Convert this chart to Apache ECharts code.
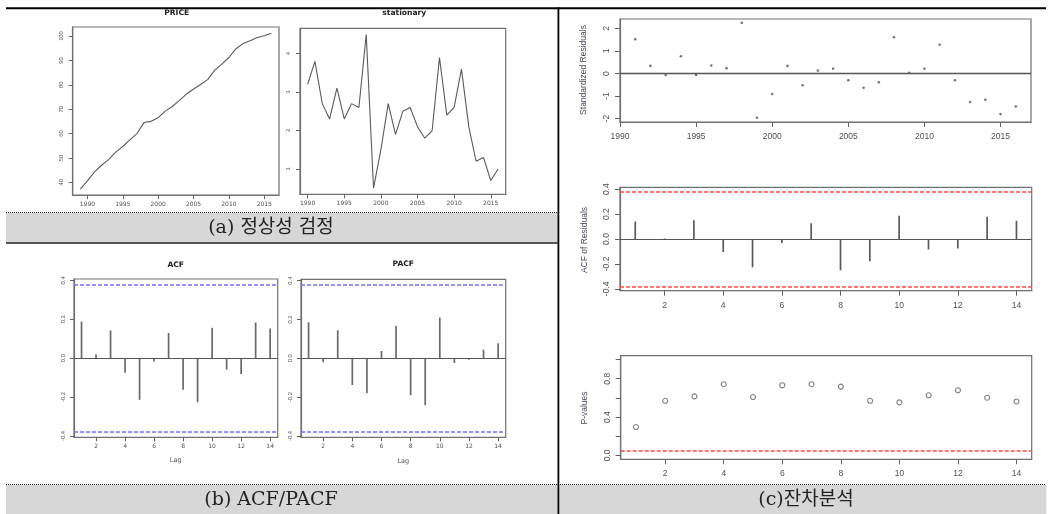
<!DOCTYPE html>
<html><head><meta charset="utf-8">
<script src="https://cdn.jsdelivr.net/npm/echarts@6/dist/echarts.min.js"></script>
<style>html,body{margin:0;padding:0;background:#fff}#c{width:1052px;height:514px}</style>
</head><body><div id="c"></div>
<script>
// ---------- data ----------
const priceYears = [1989,1990,1991,1992,1993,1994,1995,1996,1997,1998,1999,2000,2001,2002,2003,2004,2005,2006,2007,2008,2009,2010,2011,2012,2013,2014,2015,2016];
const priceValues = [37.2,40.6,44.3,47.0,49.3,52.4,54.7,57.4,60.0,64.5,65.0,66.5,69.2,71.1,73.6,76.2,78.3,80.1,82.1,86.0,88.5,91.2,94.8,96.9,98.1,99.4,100.1,101.1];
const statYears = [1990,1991,1992,1993,1994,1995,1996,1997,1998,1999,2000,2001,2002,2003,2004,2005,2006,2007,2008,2009,2010,2011,2012,2013,2014,2015,2016];
const statValues = [3.2,3.8,2.7,2.3,3.1,2.3,2.7,2.6,4.5,0.5,1.5,2.7,1.9,2.5,2.6,2.1,1.8,2.0,3.9,2.4,2.6,3.6,2.1,1.2,1.3,0.7,1.0];
const lags = [1,2,3,4,5,6,7,8,9,10,11,12,13,14];
const acfValues = [0.188,0.019,0.142,-0.075,-0.214,-0.017,0.129,-0.163,-0.227,0.156,-0.059,-0.081,0.183,0.153];
const pacfValues = [0.186,-0.020,0.144,-0.137,-0.180,0.037,0.168,-0.190,-0.242,0.210,-0.024,-0.007,0.044,0.078];
const residYears = [1991,1992,1993,1994,1995,1996,1997,1998,1999,2000,2001,2002,2003,2004,2005,2006,2007,2008,2009,2010,2011,2012,2013,2014,2015,2016];
const residValues = [1.52,0.34,-0.06,0.77,-0.06,0.36,0.24,2.25,-1.96,-0.91,0.34,-0.52,0.13,0.21,-0.30,-0.63,-0.39,1.61,0.03,0.21,1.28,-0.30,-1.26,-1.16,-1.80,-1.46];
const residAcfValues = [0.141,0.005,0.151,-0.105,-0.227,-0.032,0.127,-0.251,-0.178,0.186,-0.084,-0.076,0.178,0.146];
const pValues = [0.296,0.570,0.616,0.743,0.609,0.732,0.743,0.718,0.570,0.553,0.627,0.680,0.602,0.563];
const yearTicks = [1990,1995,2000,2005,2010,2015];
const lagTicks = [2,4,6,8,10,12,14];
const priceTicks = [40,50,60,70,80,90,100];
const statTicks = [1,2,3,4];
const acfTicks = [-0.4,-0.2,0,0.2,0.4];
const residTicks = [-2,-1,0,1,2];
const pvTicks = [0,0.2,0.4,0.6,0.8,1.0];
const pvLabelTicks = [0,0.4,0.8];
const acfLimit = 0.377, residAcfLimit = 0.384, pLimit = 0.05;
const panelTitles = ['PRICE','stationary','ACF','PACF'];
const yNames = ['Standardized Residuals','ACF of Residuals','P-values'];
const captions = ['(a) 정상성 검정','(b) ACF/PACF','(c)잔차분석'];

// ---------- helpers ----------
const FH = 'DejaVu Sans', FV = 'Liberation Sans';
const BOX = '#707070', TXT = '#505050', LINE = '#5a5a5a';
const grids = [
  {left:72.7, top:27, width:206.3, height:168},
  {left:300, top:28.3, width:205.7, height:166},
  {left:74, top:279, width:203.7, height:158.3},
  {left:301, top:279.3, width:204.7, height:158},
  {left:620, top:19, width:411, height:103},
  {left:620, top:187.3, width:411.7, height:103.4},
  {left:620.7, top:355.7, width:411, height:103.6}
].map(g => Object.assign({show:true, borderColor:BOX, borderWidth:1.2, backgroundColor:'transparent', containLabel:false, outerBoundsMode:'none'}, g));

function xAx(gi, min, max, ticks, fs, font, margin, tlen) {
  return {type:'value', gridIndex:gi, min, max, axisLine:{show:true, onZero:false, lineStyle:{color:BOX, width:1.2}}, splitLine:{show:false},
    axisTick:{show:true, customValues:ticks, length:tlen, lineStyle:{color:'#606060', width:1}},
    axisLabel:{customValues:ticks, fontSize:fs, fontFamily:font, color:TXT, margin, hideOverlap:false,
      formatter: v => String(v)}};
}
function yAx(gi, min, max, ticks, labelTicks, fs, margin, tlen, fmt) {
  return {type:'value', gridIndex:gi, min, max, axisLine:{show:true, onZero:false, lineStyle:{color:BOX, width:1.2}}, splitLine:{show:false},
    axisTick:{show:true, customValues:ticks, length:tlen, lineStyle:{color:'#606060', width:1}},
    axisLabel:{customValues:labelTicks, fontSize:fs, fontFamily:FV, color:TXT, margin, rotate:90, hideOverlap:false,
      formatter: fmt || (v => String(v))}};
}
const f1 = v => Number(v).toFixed(1);

// spikes drawn through the axes' scales; limit lines as markLines
function spikes(gi, vals, color, limits, limColor) {
  return {type:'custom', xAxisIndex:gi, yAxisIndex:gi, data: lags.map((l,i)=>[l, vals[i]]),
    encode:{x:0, y:1}, clip:true,
    renderItem:(params, api) => {
      const p0 = api.coord([api.value(0), 0]);
      const p1 = api.coord([api.value(0), api.value(1)]);
      return {type:'line', shape:{x1:p0[0], y1:p0[1], x2:p1[0], y2:p1[1]}, style:{stroke:color, lineWidth:1.7}};
    },
    markLine: {silent:true, symbol:['none','none'], label:{show:false}, animation:false,
      data: [{yAxis:0, lineStyle:{color:'#555', width:1, type:'solid'}}].concat(
        limits.map(v => ({yAxis:v, lineStyle:{color:limColor, width:1.6, type:[4,2]}})))}
  };
}

const xAxes = [
  xAx(0, 1987.92, 2017.08, yearTicks, 6, FH, 6, 4),
  xAx(1, 1988.96, 2017.04, yearTicks, 6, FH, 6, 4),
  xAx(2, 0.48, 14.52, lagTicks, 6, FH, 6, 4),
  xAx(3, 0.48, 14.52, lagTicks, 6, FH, 6, 4),
  xAx(4, 1990, 2017, yearTicks, 8.5, FV, 10, 5),
  xAx(5, 0.48, 14.52, lagTicks, 8.5, FV, 10, 5),
  xAx(6, 0.48, 14.52, lagTicks, 8.5, FV, 10, 5)
];
const yAxes = [
  yAx(0, 34.8, 103.7, priceTicks, priceTicks, 5.8, 8, 4),
  yAx(1, 0.34, 4.66, statTicks, statTicks, 5.8, 9, 4),
  yAx(2, -0.407, 0.407, acfTicks, acfTicks, 5.8, 8, 4, f1),
  yAx(3, -0.407, 0.407, acfTicks, acfTicks, 5.8, 8, 4, f1),
  yAx(4, -2.15, 2.42, residTicks, residTicks, 8.5, 9, 5),
  yAx(5, -0.415, 0.415, acfTicks, acfTicks, 8.5, 9, 5, f1),
  yAx(6, -0.04, 1.04, pvTicks, pvLabelTicks, 8.5, 9, 5, f1)
];

const BLUE = '#7070ff', RED = '#ff4a4a';
const series = [
  {type:'line', xAxisIndex:0, yAxisIndex:0, data: priceYears.map((y,i)=>[y, priceValues[i]]), symbol:'none', lineStyle:{color:LINE, width:1.1}},
  {type:'line', xAxisIndex:1, yAxisIndex:1, data: statYears.map((y,i)=>[y, statValues[i]]), symbol:'none', lineStyle:{color:LINE, width:1.1}},
  spikes(2, acfValues, '#6a6a6a', [acfLimit, -acfLimit], BLUE),
  spikes(3, pacfValues, '#6a6a6a', [acfLimit, -acfLimit], BLUE),
  {type:'scatter', xAxisIndex:4, yAxisIndex:4, data: residYears.map((y,i)=>[y, residValues[i]]), symbol:'circle', symbolSize:2.6, itemStyle:{color:'#555'},
    markLine:{silent:true, symbol:['none','none'], label:{show:false}, animation:false, data:[{yAxis:0, lineStyle:{color:'#555', width:1.3, type:'solid'}}]}},
  spikes(5, residAcfValues, '#5a5a5a', [residAcfLimit, -residAcfLimit], RED),
  {type:'scatter', xAxisIndex:6, yAxisIndex:6, data: lags.map((l,i)=>[l, pValues[i]]), symbol:'circle', symbolSize:5, itemStyle:{color:'rgba(0,0,0,0)', borderColor:'#606060', borderWidth:1.1},
    markLine:{silent:true, symbol:['none','none'], label:{show:false}, animation:false, data:[{yAxis:pLimit, lineStyle:{color:RED, width:1.6, type:[4,2]}}]}}
];

function txt(x, y, text, font, size, weight, color, rot) {
  return {type:'text', x, y, rotation: rot || 0, silent:true,
    style:{text, fontFamily:font, fontSize:size, fontWeight:weight||'normal', fill:color||TXT, align:'center', verticalAlign:'middle'}};
}
const CAPF = "'DejaVu Serif', 'Noto Sans CJK KR', serif";
const graphic = [
  // table structure
  {type:'rect', shape:{x:6, y:213, width:551.5, height:29}, style:{fill:'#d7d7d7'}, z:-10},
  {type:'rect', shape:{x:6, y:242, width:551.5, height:2}, style:{fill:'#555'}},
  {type:'rect', shape:{x:6, y:485, width:551.5, height:29}, style:{fill:'#d7d7d7'}, z:-10},
  {type:'rect', shape:{x:559.3, y:485, width:487, height:29}, style:{fill:'#d7d7d7'}, z:-10},
  {type:'line', shape:{x1:6, y1:212.5, x2:557.5, y2:212.5}, style:{stroke:'#222', lineWidth:1, lineDash:[1,1]}},
  {type:'line', shape:{x1:6, y1:484.5, x2:1046, y2:484.5}, style:{stroke:'#222', lineWidth:1, lineDash:[1,1]}},
  {type:'rect', shape:{x:6, y:7.3, width:1040, height:2}, style:{fill:'#000'}},
  {type:'rect', shape:{x:557.5, y:7.3, width:1.8, height:507}, style:{fill:'#000'}},
  // captions
  txt(271, 228, captions[0], CAPF, 19, 'normal', '#222'),
  txt(271, 500, captions[1], CAPF, 19, 'normal', '#222'),
  txt(806, 500, captions[2], CAPF, 19, 'normal', '#222'),
  // panel titles
  txt(176.7, 12.9, panelTitles[0], FH, 7.6, 'bold', '#222'),
  txt(404.3, 13.3, panelTitles[1], FH, 7.6, 'bold', '#222'),
  txt(175.7, 265, panelTitles[2], FH, 7.6, 'bold', '#222'),
  txt(403.3, 264.5, panelTitles[3], FH, 7.6, 'bold', '#222'),
  // axis names
  txt(175.7, 460.8, 'Lag', FH, 6.5, 'normal', TXT),
  txt(403.3, 461, 'Lag', FH, 6.5, 'normal', TXT),
  txt(583.5, 70, yNames[0], FV, 8.5, 'normal', '#4a4a5a', Math.PI/2),
  txt(585, 240, yNames[1], FV, 8.5, 'normal', '#4a4a5a', Math.PI/2),
  txt(585, 408, yNames[2], FV, 8.5, 'normal', '#4a4a5a', Math.PI/2)
];

const chart = echarts.init(document.getElementById('c'), null, {renderer:'canvas', width:1052, height:514});
chart.setOption({
  animation:false,
  backgroundColor:'#fff',
  grid: grids,
  xAxis: xAxes,
  yAxis: yAxes,
  series,
  graphic
});
</script></body></html>
